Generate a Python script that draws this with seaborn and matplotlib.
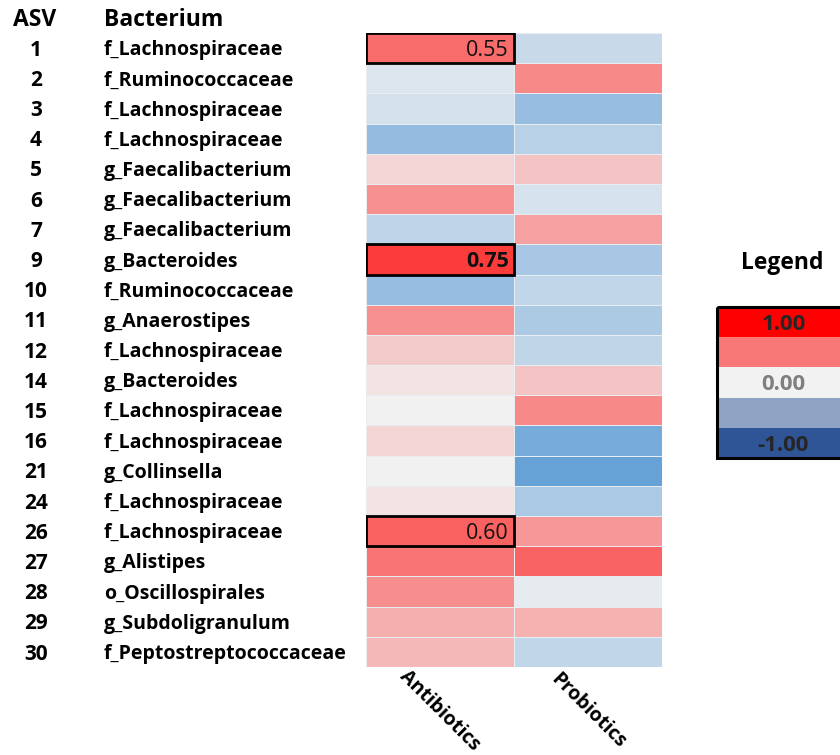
import numpy as np
import pandas as pd
import matplotlib
matplotlib.use("Agg")
import matplotlib.pyplot as plt
from matplotlib.colors import LinearSegmentedColormap, ListedColormap
from matplotlib.patches import Rectangle
import seaborn as sns

# data
asv = [1, 2, 3, 4, 5, 6, 7, 9, 10, 11, 12, 14, 15, 16, 21, 24, 26, 27, 28, 29, 30]
bacterium = ["f_Lachnospiraceae", "f_Ruminococcaceae", "f_Lachnospiraceae", "f_Lachnospiraceae",
             "g_Faecalibacterium", "g_Faecalibacterium", "g_Faecalibacterium", "g_Bacteroides",
             "f_Ruminococcaceae", "g_Anaerostipes", "f_Lachnospiraceae", "g_Bacteroides",
             "f_Lachnospiraceae", "f_Lachnospiraceae", "g_Collinsella", "f_Lachnospiraceae",
             "f_Lachnospiraceae", "g_Alistipes", "o_Oscillospirales", "g_Subdoligranulum",
             "f_Peptostreptococcaceae"]
antibiotics = [0.55, -0.14, -0.20, -0.62, 0.12, 0.40, -0.34, 0.75, -0.60, 0.40, 0.16,
               0.06, 0.00, 0.12, 0.00, 0.06, 0.60, 0.52, 0.41, 0.28, 0.24]
probiotics = [-0.28, 0.43, -0.60, -0.38, 0.19, -0.18, 0.33, -0.50, -0.32, -0.46, -0.33,
              0.19, 0.43, -0.82, -0.92, -0.47, 0.37, 0.59, -0.08, 0.27, -0.32]
treatments = ["Antibiotics", "Probiotics"]

# highlighted cells: (row, col, label, bold)
highlights = [(0, 0, "0.55", False), (7, 0, "0.75", True), (16, 0, "0.60", False)]

legend_values = [1.0, 0.5, 0.0, -0.5, -1.0]
legend_colors = ["#FF0000", "#F87878", "#F2F2F2", "#8FA3C4", "#2F5597"]
legend_labels = ["1.00", "", "0.00", "", "-1.00"]
legend_text_colors = ["#262626", "#262626", "#7F7F7F", "#262626", "#262626"]

FONT = "Open Sans"

df = pd.DataFrame({"Antibiotics": antibiotics, "Probiotics": probiotics}, index=asv)

cmap = LinearSegmentedColormap.from_list("rwb", ["#5B9BD5", "#F2F2F2", "#FF0000"])

fig = plt.figure(figsize=(8.4, 7.55), dpi=100)
ax = fig.add_axes([366 / 840, 1 - 667 / 755, 296 / 840, 634 / 755])

sns.heatmap(df, cmap=cmap, vmin=-1, vmax=1, cbar=False, ax=ax,
            linewidths=0.6, linecolor="#E8EDF2")
ax.set_xticks([])
ax.set_yticks([])
ax.set_xlabel("")
ax.set_ylabel("")

# boxed + annotated cells
for r, c, lab, bold in highlights:
    ax.add_patch(Rectangle((c, r), 1, 1, fill=False, edgecolor="black", lw=2, zorder=5))
    ax.text(c + 0.965, r + 0.58, lab, ha="right", va="center", fontsize=15.5,
            fontweight="bold" if bold else "normal", family=FONT, color="#111111", zorder=6)

# row labels on the left
trans = matplotlib.transforms.blended_transform_factory(fig.transFigure, ax.transData)
for i, (a, b) in enumerate(zip(asv, bacterium)):
    ax.text(36 / 840, i + 0.57, str(a), transform=trans, ha="center", va="center",
            fontsize=15, fontweight="bold", family=FONT, clip_on=False)
    ax.text(104 / 840, i + 0.57, b, transform=trans, ha="left", va="center",
            fontsize=14, fontweight="bold", family=FONT, clip_on=False)

fig.text(35 / 840, 1 - 20 / 755, "ASV", ha="center", va="center",
         fontsize=16.5, fontweight="bold", family=FONT)
fig.text(104 / 840, 1 - 20 / 755, "Bacterium", ha="left", va="center",
         fontsize=16.5, fontweight="bold", family=FONT)

# rotated column labels
for j, name in enumerate(treatments):
    ax.text(j + 0.5, 22.45, name, rotation=-45, rotation_mode="anchor",
            ha="center", va="center", fontsize=14, family=FONT, fontweight="bold",
            clip_on=False)

# legend
fig.text(782 / 840, 1 - 263 / 755, "Legend", ha="center", va="center",
         fontsize=16.5, fontweight="bold", family=FONT)
lax = fig.add_axes([717 / 840, 1 - 458 / 755, 133 / 840, 151 / 755])
leg_df = pd.DataFrame({"v": legend_values})
sns.heatmap(leg_df, cmap=ListedColormap(legend_colors[::-1]), vmin=-1.25, vmax=1.25,
            cbar=False, ax=lax)
lax.set_xticks([])
lax.set_yticks([])
lax.set_xlabel("")
lax.set_ylabel("")
lax.add_patch(Rectangle((0, 0), 1, len(legend_values), fill=False, edgecolor="black",
                        lw=2.2, clip_on=False, zorder=5))
for i, (lab, col) in enumerate(zip(legend_labels, legend_text_colors)):
    if lab:
        lax.text(0.5, i + 0.58, lab, ha="center", va="center", fontsize=16,
                 fontweight="bold", family=FONT, color=col)

fig.savefig("out.png", dpi=100)
